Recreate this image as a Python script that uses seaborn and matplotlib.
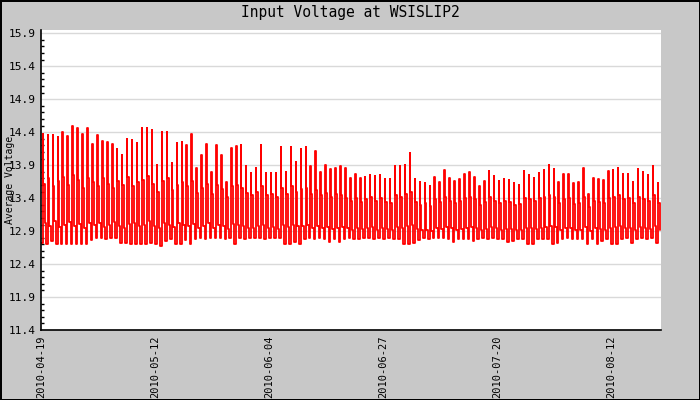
import pandas as pd
import numpy as np
import matplotlib
matplotlib.use('Agg')
import matplotlib.pyplot as plt
import matplotlib.ticker as mticker
import seaborn as sns

# daily readings taken off the chart (volts)
peak = [14.38, 14.36, 14.35, 14.33, 14.40, 14.34, 14.50, 14.47, 14.37, 14.47,
        14.22, 14.36, 14.26, 14.25, 14.22, 14.14, 14.06, 14.30, 14.28, 14.23,
        14.46, 14.46, 14.44, 13.90, 14.40, 14.40, 13.93, 14.23, 14.25, 14.20,
        14.37, 13.85, 14.05, 14.22, 13.80, 14.20, 14.05, 13.65, 14.16, 14.19,
        14.20, 13.88, 13.78, 13.85, 14.20, 13.78, 13.78, 13.78, 14.17, 13.80,
        14.17, 13.95, 14.15, 14.17, 13.88, 14.11, 13.80, 13.90, 13.84, 13.85,
        13.88, 13.85, 13.71, 13.77, 13.71, 13.72, 13.75, 13.73, 13.75, 13.69,
        13.69, 13.89, 13.89, 13.91, 14.09, 13.69, 13.64, 13.63, 13.58, 13.72,
        13.65, 13.83, 13.70, 13.66, 13.69, 13.77, 13.80, 13.72, 13.59, 13.66,
        13.81, 13.73, 13.66, 13.69, 13.68, 13.63, 13.60, 13.81, 13.75, 13.71,
        13.78, 13.83, 13.90, 13.84, 13.65, 13.77, 13.77, 13.63, 13.65, 13.86,
        13.47, 13.71, 13.69, 13.68, 13.81, 13.83, 13.86, 13.77, 13.77, 13.65,
        13.84, 13.80, 13.75, 13.89, 13.63]

plateau = [13.62, 13.70, 13.58, 13.66, 13.72, 13.60, 13.75, 13.68, 13.56, 13.70,
           13.64, 13.58, 13.70, 13.62, 13.55, 13.66, 13.60, 13.72, 13.58, 13.64,
           13.68, 13.74, 13.62, 13.50, 13.66, 13.70, 13.52, 13.60, 13.64, 13.58,
           13.66, 13.48, 13.56, 13.62, 13.46, 13.60, 13.54, 13.42, 13.58, 13.60,
           13.56, 13.48, 13.44, 13.50, 13.58, 13.44, 13.46, 13.42, 13.56, 13.46,
           13.58, 13.50, 13.54, 13.56, 13.46, 13.52, 13.44, 13.48, 13.42, 13.46,
           13.44, 13.40, 13.36, 13.40, 13.34, 13.38, 13.42, 13.36, 13.40, 13.34,
           13.32, 13.44, 13.42, 13.46, 13.50, 13.34, 13.30, 13.32, 13.28, 13.38,
           13.34, 13.42, 13.36, 13.32, 13.35, 13.40, 13.42, 13.38, 13.30, 13.34,
           13.42, 13.36, 13.33, 13.35, 13.34, 13.30, 13.31, 13.40, 13.38, 13.36,
           13.40, 13.42, 13.44, 13.42, 13.32, 13.38, 13.40, 13.31, 13.33, 13.42,
           13.26, 13.36, 13.34, 13.33, 13.40, 13.42, 13.44, 13.38, 13.40, 13.32,
           13.42, 13.38, 13.36, 13.44, 13.32]

evening = [13.02, 12.98, 13.05, 12.96, 13.00, 13.04, 12.97, 13.01, 12.95, 13.03,
           12.99, 13.02, 12.96, 13.00, 13.04, 12.98, 12.95, 13.01, 13.03, 12.97,
           13.00, 13.05, 12.98, 12.94, 13.02, 13.00, 12.96, 13.03, 12.99, 12.97,
           13.01, 12.95, 12.98, 13.02, 12.94, 13.00, 12.97, 12.93, 13.01, 12.99,
           12.97, 12.95, 12.94, 12.98, 13.00, 12.95, 12.96, 12.93, 12.99, 12.96,
           13.00, 12.97, 12.98, 12.99, 12.95, 12.97, 12.94, 12.96, 12.93, 12.95,
           12.96, 12.94, 12.92, 12.95, 12.93, 12.94, 12.96, 12.92, 12.95, 12.93,
           12.92, 12.96, 12.95, 12.97, 12.99, 12.93, 12.91, 12.92, 12.90, 12.94,
           12.93, 12.96, 12.94, 12.92, 12.93, 12.95, 12.96, 12.94, 12.91, 12.93,
           12.96, 12.94, 12.92, 12.93, 12.93, 12.91, 12.92, 12.95, 12.94, 12.93,
           12.95, 12.96, 12.97, 12.96, 12.92, 12.94, 12.95, 12.91, 12.92, 12.96,
           12.90, 12.94, 12.93, 12.92, 12.95, 12.96, 12.97, 12.94, 12.95, 12.92,
           12.96, 12.94, 12.93, 12.97, 12.92]

trough = [12.72, 12.70, 12.75, 12.71, 12.71, 12.70, 12.70, 12.70, 12.70, 12.71,
          12.77, 12.79, 12.80, 12.78, 12.79, 12.80, 12.72, 12.72, 12.71, 12.70,
          12.70, 12.70, 12.72, 12.70, 12.67, 12.75, 12.78, 12.70, 12.70, 12.77,
          12.70, 12.78, 12.80, 12.78, 12.79, 12.80, 12.80, 12.78, 12.80, 12.70,
          12.80, 12.78, 12.80, 12.79, 12.80, 12.78, 12.80, 12.80, 12.79, 12.70,
          12.70, 12.73, 12.70, 12.78, 12.79, 12.78, 12.79, 12.78, 12.73, 12.78,
          12.73, 12.78, 12.80, 12.78, 12.78, 12.80, 12.80, 12.78, 12.80, 12.78,
          12.80, 12.78, 12.78, 12.70, 12.70, 12.72, 12.77, 12.80, 12.78, 12.80,
          12.80, 12.80, 12.78, 12.73, 12.78, 12.78, 12.78, 12.75, 12.78, 12.80,
          12.78, 12.80, 12.78, 12.78, 12.73, 12.75, 12.78, 12.78, 12.70, 12.70,
          12.78, 12.78, 12.78, 12.70, 12.72, 12.78, 12.80, 12.78, 12.78, 12.78,
          12.70, 12.78, 12.70, 12.75, 12.78, 12.70, 12.70, 12.78, 12.80, 12.72,
          12.78, 12.80, 12.78, 12.80, 12.72]

yticks = [11.4, 11.9, 12.4, 12.9, 13.4, 13.9, 14.4, 14.9, 15.4, 15.9]
date_ticks = ['2010-04-19', '2010-05-12', '2010-06-04', '2010-06-27', '2010-07-20', '2010-08-12']

start = pd.Timestamp('2010-04-19')
days = pd.date_range(start, periods=len(peak), freq='D')
rows = []
for i, d in enumerate(days):
    rows.append((d, trough[i]))
    rows.append((d + pd.Timedelta(hours=8), peak[i]))
    rows.append((d + pd.Timedelta(hours=10), plateau[i]))
    rows.append((d + pd.Timedelta(hours=17), evening[i]))
df = pd.DataFrame(rows, columns=['time', 'volt'])

sns.set_style('white')
plt.rcParams['font.family'] = ['DejaVu Sans Mono']
plt.rcParams['text.color'] = 'black'

fig = plt.figure(figsize=(7, 4), dpi=100, facecolor='#c8c8c8')
ax = fig.add_axes([41/700, 70/400, 620/700, 300/400])
sns.lineplot(data=df, x='time', y='volt', ax=ax, color='#ff0000', lw=1.3,
             drawstyle='steps-post', estimator=None)

ax.set_xlim(start, start + pd.Timedelta(days=125))
ax.set_ylim(11.4, 15.95)
ax.set_yticks(yticks)
ax.set_yticklabels([f'{v:.1f}' for v in yticks], fontsize=8, color='black')
ax.yaxis.set_minor_locator(mticker.MultipleLocator(0.1))
ax.set_xticks([pd.Timestamp(t) for t in date_ticks])
ax.set_xticklabels(date_ticks, rotation=90, fontsize=7.5, color='black')

ax.yaxis.grid(True, color='#d9d9d9', lw=1)
ax.set_axisbelow(True)
for s in ['top', 'right']:
    ax.spines[s].set_visible(False)
for s in ['left', 'bottom']:
    ax.spines[s].set_color('black')
    ax.spines[s].set_linewidth(1.2)

ax.tick_params(axis='y', which='major', direction='in', length=3.2, width=1, pad=4, colors='black')
ax.tick_params(axis='y', which='minor', direction='in', length=2.2, width=1, left=True, colors='black')
ax.tick_params(axis='x', which='major', direction='in', length=3.6, width=1, pad=4, colors='black')

ax.set_xlabel('')
ax.set_ylabel('Average Voltage', fontsize=7, color='black')
ax.yaxis.set_label_coords(-0.042, 0.5)

fig.text(0.5, 1 - 12/400, 'Input Voltage at WSISLIP2', ha='center', va='center',
         fontsize=10.5, color='black')

fig.patch.set_edgecolor('black')
fig.patch.set_linewidth(2)
fig.savefig('out.png', dpi=100, facecolor=fig.get_facecolor(), edgecolor='black')
